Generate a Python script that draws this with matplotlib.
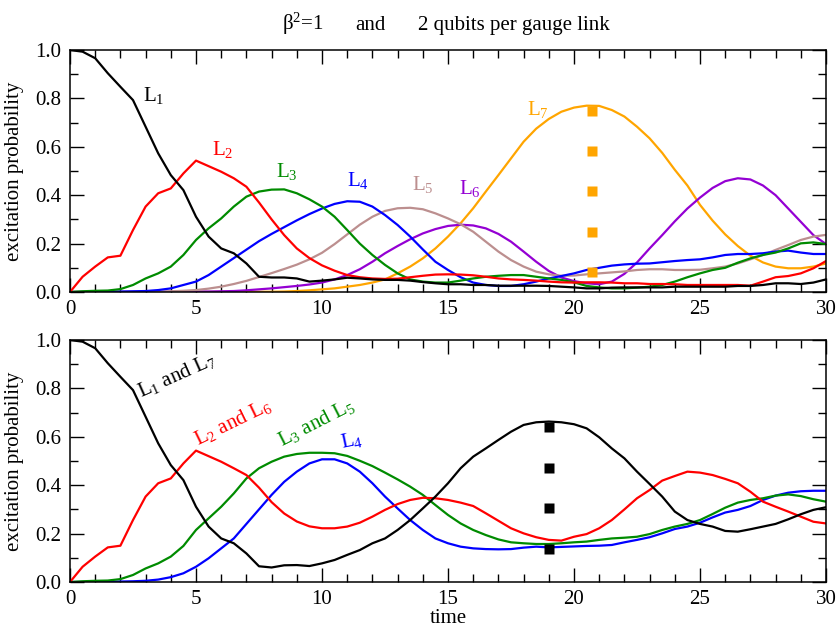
import numpy as np
import matplotlib
matplotlib.use("Agg")
import matplotlib.pyplot as plt
from matplotlib.ticker import MultipleLocator

plt.rcParams['font.family'] = ['Liberation Serif', 'DejaVu Serif']
plt.rcParams['mathtext.fontset'] = 'custom'
plt.rcParams['mathtext.rm'] = 'Liberation Serif'
plt.rcParams['mathtext.it'] = 'Liberation Serif:italic'
plt.rcParams['lines.solid_joinstyle'] = 'round'
plt.rcParams['lines.solid_capstyle'] = 'round'

# time grid (step 0.5)
time = [i * 0.5 for i in range(61)]

# ---- top panel: 2 qubits per gauge link, each link ----
top_L1 = [1.0, 0.993, 0.966, 0.904, 0.848, 0.793, 0.683, 0.573, 0.483, 0.421,
          0.311, 0.229, 0.18, 0.16, 0.118, 0.063, 0.06, 0.06, 0.056, 0.043,
          0.047, 0.052, 0.059, 0.056, 0.052, 0.05, 0.05, 0.047, 0.041, 0.036,
          0.032, 0.032, 0.029, 0.029, 0.026, 0.026, 0.026, 0.026, 0.025, 0.022,
          0.019, 0.015, 0.015, 0.018, 0.019, 0.019, 0.019, 0.019, 0.022, 0.022,
          0.022, 0.022, 0.022, 0.025, 0.025, 0.029, 0.036, 0.036, 0.033, 0.039,
          0.052]
top_L2 = [0.0, 0.063, 0.105, 0.143, 0.15, 0.256, 0.353, 0.408, 0.428, 0.49,
          0.543, 0.52, 0.497, 0.47, 0.435, 0.37, 0.30, 0.235, 0.18, 0.14,
          0.11, 0.088, 0.07, 0.061, 0.056, 0.054, 0.055, 0.061, 0.067, 0.072,
          0.073, 0.072, 0.069, 0.063, 0.056, 0.052, 0.05, 0.047, 0.043, 0.04,
          0.039, 0.04, 0.04, 0.039, 0.036, 0.036, 0.033, 0.033, 0.032, 0.029,
          0.029, 0.029, 0.029, 0.029, 0.026, 0.043, 0.061, 0.066, 0.077, 0.098,
          0.128]
top_L3 = [0.0, 0.003, 0.005, 0.006, 0.012, 0.029, 0.056, 0.077, 0.105, 0.153,
          0.215, 0.263, 0.304, 0.353, 0.394, 0.415, 0.423, 0.424, 0.408, 0.383,
          0.353, 0.311, 0.256, 0.2, 0.153, 0.112, 0.077, 0.052, 0.043, 0.039,
          0.039, 0.047, 0.056, 0.063, 0.067, 0.07, 0.07, 0.063, 0.056, 0.05,
          0.04, 0.025, 0.019, 0.015, 0.015, 0.018, 0.022, 0.029, 0.043, 0.061,
          0.077, 0.091, 0.1, 0.121, 0.139, 0.153, 0.163, 0.18, 0.201, 0.205,
          0.198]
top_L4 = [0.0, 0.0, 0.001, 0.001, 0.002, 0.003, 0.004, 0.008, 0.015, 0.029,
          0.043, 0.07, 0.105, 0.14, 0.175, 0.21, 0.24, 0.268, 0.296, 0.322,
          0.345, 0.364, 0.375, 0.373, 0.353, 0.318, 0.277, 0.229, 0.176, 0.125,
          0.091, 0.061, 0.039, 0.029, 0.025, 0.025, 0.032, 0.043, 0.056, 0.066,
          0.077, 0.091, 0.1, 0.109, 0.114, 0.117, 0.118, 0.123, 0.128, 0.132,
          0.135, 0.143, 0.153, 0.157, 0.157, 0.16, 0.167, 0.171, 0.163, 0.157,
          0.157]
top_L5 = [0.0, 0.0, 0.0, 0.0, 0.0, 0.0, 0.0, 0.001, 0.003, 0.005,
          0.008, 0.014, 0.022, 0.033, 0.046, 0.062, 0.078, 0.095, 0.113, 0.135,
          0.162, 0.198, 0.238, 0.278, 0.311, 0.335, 0.346, 0.348, 0.342, 0.325,
          0.304, 0.28, 0.249, 0.208, 0.167, 0.132, 0.105, 0.084, 0.073, 0.067,
          0.068, 0.073, 0.077, 0.081, 0.085, 0.091, 0.094, 0.094, 0.091, 0.091,
          0.092, 0.098, 0.105, 0.118, 0.135, 0.153, 0.174, 0.194, 0.215, 0.229,
          0.236]
top_L6 = [0.0, 0.0, 0.0, 0.0, 0.0, 0.0, 0.0, 0.0, 0.001, 0.001,
          0.002, 0.002, 0.003, 0.004, 0.007, 0.011, 0.015, 0.02, 0.025, 0.031,
          0.039, 0.052, 0.07, 0.094, 0.125, 0.16, 0.19, 0.218, 0.242, 0.26,
          0.273, 0.278, 0.275, 0.263, 0.24, 0.208, 0.167, 0.125, 0.087, 0.06,
          0.045, 0.036, 0.032, 0.043, 0.075, 0.122, 0.18, 0.235, 0.292, 0.345,
          0.39, 0.43, 0.458, 0.47, 0.465, 0.44, 0.4, 0.345, 0.29, 0.235,
          0.198]
top_L7 = [0.0, 0.0, 0.0, 0.0, 0.0, 0.0, 0.0, 0.0, 0.0, 0.0,
          0.0, 0.0, 0.0, 0.0, 0.0, 0.001, 0.001, 0.002, 0.004, 0.007,
          0.011, 0.015, 0.022, 0.029, 0.039, 0.052, 0.077, 0.105, 0.139, 0.18,
          0.229, 0.284, 0.346, 0.415, 0.483, 0.552, 0.621, 0.675, 0.715, 0.745,
          0.762, 0.77, 0.769, 0.752, 0.725, 0.683, 0.635, 0.575, 0.505, 0.44,
          0.36, 0.295, 0.238, 0.19, 0.15, 0.122, 0.105, 0.098, 0.098, 0.105,
          0.118]

top_sq_t = [20.7, 20.7, 20.7, 20.7, 20.7]
top_sq_v = [0.75, 0.583, 0.417, 0.25, 0.083]

# ---- bottom panel ----
bot_L1L7 = [1.0, 0.993, 0.966, 0.904, 0.848, 0.793, 0.683, 0.573, 0.483, 0.421,
            0.311, 0.229, 0.18, 0.16, 0.118, 0.065, 0.06, 0.069, 0.07, 0.066,
            0.077, 0.091, 0.112, 0.132, 0.16, 0.18, 0.215, 0.256, 0.304, 0.353,
            0.408, 0.47, 0.518, 0.552, 0.587, 0.621, 0.649, 0.66, 0.663, 0.66,
            0.652, 0.635, 0.598, 0.552, 0.511, 0.456, 0.405, 0.353, 0.291, 0.256,
            0.24, 0.229, 0.211, 0.208, 0.218, 0.229, 0.24, 0.259, 0.28, 0.298,
            0.309]
bot_L2L6 = [0.0, 0.063, 0.105, 0.143, 0.15, 0.256, 0.353, 0.408, 0.428, 0.49,
            0.543, 0.52, 0.497, 0.47, 0.442, 0.39, 0.33, 0.283, 0.25, 0.23,
            0.222, 0.222, 0.229, 0.245, 0.27, 0.298, 0.322, 0.339, 0.348, 0.346,
            0.339, 0.328, 0.314, 0.284, 0.253, 0.222, 0.201, 0.185, 0.174, 0.171,
            0.187, 0.198, 0.222, 0.256, 0.3, 0.346, 0.38, 0.419, 0.438, 0.456,
            0.452, 0.442, 0.426, 0.408, 0.373, 0.332, 0.311, 0.291, 0.27, 0.249,
            0.242]
bot_L3L5 = [0.0, 0.003, 0.005, 0.006, 0.012, 0.029, 0.056, 0.077, 0.105, 0.149,
            0.215, 0.263, 0.311, 0.366, 0.428, 0.47, 0.497, 0.518, 0.529, 0.534,
            0.534, 0.532, 0.521, 0.501, 0.479, 0.452, 0.424, 0.394, 0.36, 0.318,
            0.277, 0.242, 0.215, 0.194, 0.176, 0.164, 0.16, 0.157, 0.157, 0.16,
            0.164, 0.167, 0.174, 0.18, 0.183, 0.187, 0.198, 0.215, 0.229, 0.24,
            0.256, 0.281, 0.307, 0.328, 0.339, 0.346, 0.357, 0.362, 0.355, 0.342,
            0.332]
bot_L4 = [0.0, 0.0, 0.001, 0.001, 0.002, 0.003, 0.005, 0.01, 0.02, 0.036,
          0.063, 0.098, 0.139, 0.18, 0.24, 0.3, 0.36, 0.414, 0.456, 0.49,
          0.507, 0.507, 0.49, 0.456, 0.408, 0.353, 0.304, 0.256, 0.215, 0.18,
          0.16, 0.146, 0.139, 0.136, 0.135, 0.136, 0.142, 0.146, 0.143, 0.145,
          0.147, 0.149, 0.15, 0.153, 0.164, 0.174, 0.185, 0.201, 0.219, 0.229,
          0.245, 0.267, 0.287, 0.298, 0.314, 0.339, 0.357, 0.369, 0.375, 0.377,
          0.377]

bot_sq_t = [19.0, 19.0, 19.0, 19.0]
bot_sq_v = [0.64, 0.47, 0.305, 0.135]

c_black = 'black'
c_red = '#ff0000'
c_green = '#008b00'
c_blue = '#0000ff'
c_brown = '#bc8f8f'
c_violet = '#9400d3'
c_orange = '#ffa500'

W, H = 837, 629
fig = plt.figure(figsize=(W / 100, H / 100), dpi=100)
left = 70 / W
width = 756 / W
ax1 = fig.add_axes([left, (H - 292) / H, width, 242 / H])
ax2 = fig.add_axes([left, (H - 582) / H, width, 242 / H])

lw = 1.6
FS = 15

def style(ax):
    ax.set_xlim(0, 30)
    ax.set_ylim(0, 1)
    ax.xaxis.set_major_locator(MultipleLocator(5))
    ax.xaxis.set_minor_locator(MultipleLocator(1))
    ax.yaxis.set_major_locator(MultipleLocator(0.2))
    ax.yaxis.set_minor_locator(MultipleLocator(0.1))
    ax.tick_params(which='both', direction='in', top=True, right=True,
                   labelsize=FS, width=1.0, pad=6)
    ax.tick_params(which='major', length=10)
    ax.tick_params(which='minor', length=5.5)
    ax.yaxis.set_major_formatter(plt.FuncFormatter(lambda v, p: f"{v:.1f}"))
    for s in ax.spines.values():
        s.set_linewidth(1.1)
    ax.set_ylabel('excitation probability', fontsize=FS, labelpad=8)

# top
for y, c in [(top_L7, c_orange), (top_L6, c_violet), (top_L5, c_brown),
             (top_L4, c_blue), (top_L3, c_green), (top_L2, c_red), (top_L1, c_black)]:
    ax1.plot(time, y, color=c, lw=lw)
ax1.plot(top_sq_t, top_sq_v, 's', color=c_orange, ms=7.5, mec='none')
style(ax1)

top_labels = [(2.88, 0.789, '1', c_black), (5.62, 0.566, '2', c_red),
              (8.17, 0.476, '3', c_green), (10.98, 0.439, '4', c_blue),
              (13.56, 0.421, '5', c_brown), (15.45, 0.405, '6', c_violet),
              (18.15, 0.731, '7', c_orange)]
for tx, ty, n, c in top_labels:
    ax1.text(tx, ty, r'$\mathregular{L_%s}$' % n, color=c, fontsize=FS,
             ha='left', va='baseline')

# bottom
for y, c in [(bot_L4, c_blue), (bot_L3L5, c_green), (bot_L2L6, c_red), (bot_L1L7, c_black)]:
    ax2.plot(time, y, color=c, lw=lw)
ax2.plot(bot_sq_t, bot_sq_v, 's', color=c_black, ms=7.5, mec='none')
style(ax2)
ax2.set_xlabel('time', fontsize=FS, labelpad=0)

bot_labels = [(2.8, 0.764, r'$\mathregular{L_1}$ and $\mathregular{L_7}$', c_black, 24),
              (5.08, 0.566, r'$\mathregular{L_2}$ and $\mathregular{L_6}$', c_red, 26),
              (8.41, 0.558, r'$\mathregular{L_3}$ and $\mathregular{L_5}$', c_green, 27),
              (10.78, 0.554, r'$\mathregular{L_4}$', c_blue, 12)]
for tx, ty, s, c, r in bot_labels:
    ax2.text(tx, ty, s, color=c, fontsize=FS, ha='left', va='baseline',
             rotation=r, rotation_mode='anchor')

# title
ty = 1 - 30 / H
fig.text(282 / W, ty, r'$\mathregular{\beta^2}$=1', fontsize=FS, ha='left', va='baseline')
fig.text(355 / W, ty, 'and', fontsize=FS, ha='left', va='baseline')
fig.text(418 / W, ty, '2 qubits per gauge link', fontsize=FS, ha='left', va='baseline')

fig.savefig('out.png', dpi=100)
